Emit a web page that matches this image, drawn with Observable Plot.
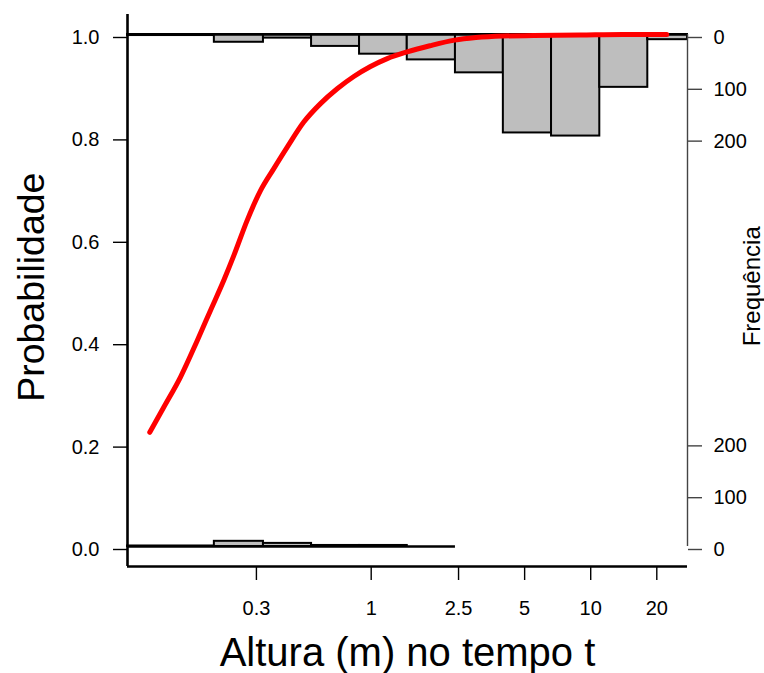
<!DOCTYPE html>
<html>
<head>
<meta charset="utf-8">
<script src="https://cdn.jsdelivr.net/npm/d3@7"></script>
<script src="https://cdn.jsdelivr.net/npm/@observablehq/plot@0.6"></script>
<style>
  html, body { margin: 0; padding: 0; background: white; }
</style>
</head>
<body>
<div id="chart"></div>
<script>
// ---- data ----
const probTicks = [0, 0.2, 0.4, 0.6, 0.8, 1.0];
const heightTicks = [0.3, 1, 2.5, 5, 10, 20];
const heightTickLabels = ["0.3", "1", "2.5", "5", "10", "20"];
const freqTicks = [0, 100, 200];

// fitted probability curve (height in m, probability)
const curveHeight = [0.098, 0.1135, 0.1353, 0.1612, 0.1853, 0.2131, 0.2366, 0.2723, 0.3131, 0.36, 0.4145, 0.493, 0.5875, 0.70, 0.8332, 0.9927, 1.183, 1.459, 1.85, 2.40, 3.0, 3.96, 5.5, 8.98, 14, 20.6, 22.2];
const curveProb   = [0.223, 0.272, 0.331, 0.402, 0.461, 0.520, 0.568, 0.637, 0.695, 0.738, 0.780, 0.829, 0.865, 0.894, 0.918, 0.9375, 0.953, 0.966, 0.978, 0.989, 0.994, 0.997, 0.998, 0.999, 1.0, 1.0, 1.0];

// histogram bins (height, m) and counts
const binEdges = [0.0776, 0.193, 0.323, 0.535, 0.885, 1.46, 2.42, 4.00, 6.63, 11.0, 18.2, 27.6];
const topCounts = [2, 15, 7, 23, 38, 49, 74, 190, 196, 102, 10];   // events (top, hanging from 1)
const bottomCounts = [1, 10, 6, 2, 2, 0];                           // non-events (bottom, rising from 0)

// ---- derived ----
const k = 0.001012; // probability units per count on the frequency axis
const curve = curveHeight.map((h, i) => ({h, p: curveProb[i]}));
const topBars = topCounts.map((c, i) => ({lo: binEdges[i], hi: binEdges[i + 1], c}));
const bottomBars = bottomCounts.map((c, i) => ({lo: binEdges[i], hi: binEdges[i + 1], c}));
const xTickData = heightTicks.map((v, i) => ({v, label: heightTickLabels[i]}));
const xMin = binEdges[0], xMax = binEdges[binEdges.length - 1];
const bottomMax = binEdges[bottomCounts.length];
const yDomain = [-0.0390625, 1.0390625];

const font = "'Liberation Sans', Arial, sans-serif";

const chart = Plot.plot({
  width: 764,
  height: 673,
  marginLeft: 127,
  marginRight: 77,
  marginTop: 14,
  marginBottom: 107,
  style: {fontFamily: font, fontSize: "20px", background: "white", color: "black", overflow: "visible"},
  x: {type: "log", domain: [xMin, xMax]},
  y: {domain: yDomain},
  marks: [
    // histograms
    Plot.rect(topBars, {x1: "lo", x2: "hi", y1: 1, y2: d => 1 - k * d.c, fill: "#BEBEBE", stroke: "black", strokeWidth: 2}),
    Plot.rect(bottomBars, {x1: "lo", x2: "hi", y1: 0, y2: d => k * d.c, fill: "#BEBEBE", stroke: "black", strokeWidth: 2}),
    Plot.ruleY([1], {x1: xMin, x2: xMax, stroke: "black", strokeWidth: 2.5}),
    Plot.ruleY([0], {x1: xMin, x2: bottomMax, stroke: "black", strokeWidth: 2.5}),
    // right frequency axis line
    Plot.ruleX([xMax], {y1: 0, y2: 1, stroke: "#444", strokeWidth: 1.4}),
    // L-shaped box
    Plot.ruleX([xMin], {stroke: "black", strokeWidth: 2.6}),
    Plot.ruleY([yDomain[0]], {stroke: "black", strokeWidth: 2.6}),
    // axes
    Plot.axisY({anchor: "left", ticks: probTicks, tickFormat: d => d.toFixed(1), tickSize: 14, tickPadding: 14, dy: 3, label: null, stroke: "black", strokeWidth: 1.4}),
    Plot.axisY({anchor: "right", ticks: freqTicks.map(c => 1 - k * c), tickFormat: v => String(Math.round((1 - v) / k)), tickSize: 14, tickPadding: 12, dy: 3, label: null, stroke: "#444", strokeWidth: 1.4}),
    Plot.axisY({anchor: "right", ticks: freqTicks.map(c => k * c), tickFormat: v => String(Math.round(v / k)), tickSize: 14, tickPadding: 12, dy: 3, label: null, stroke: "#444", strokeWidth: 1.4}),
    Plot.axisX({anchor: "bottom", ticks: heightTicks, text: null, tickSize: 14, label: null, stroke: "black", strokeWidth: 1.4}),
    Plot.text(xTickData, {x: "v", text: "label", frameAnchor: "bottom", textAnchor: "middle", lineAnchor: "middle", dy: 41.9, fontSize: 20, fill: "black"}),
    // fitted curve
    Plot.line(curve, {x: "h", y: "p", curve: "monotone-x", stroke: "#FF0000", strokeWidth: 5, strokeLinecap: "round", strokeLinejoin: "round"}),
    // labels
    Plot.text(["Altura (m) no tempo t"], {frameAnchor: "bottom", text: d => d, textAnchor: "middle", lineAnchor: "middle", dy: 86.2, fontSize: 40, fill: "black"}),
    Plot.text(["Probabilidade"], {frameAnchor: "left", text: d => d, rotate: -90, textAnchor: "middle", lineAnchor: "middle", dx: -95.3, dy: -3.3, fontSize: 37.5, fill: "black"}),
    Plot.text(["Frequência"], {frameAnchor: "right", text: d => d, rotate: -90, textAnchor: "middle", lineAnchor: "middle", dx: 64.5, dy: -4.2, fontSize: 24, fill: "black"})
  ]
});

document.getElementById("chart").appendChild(chart);
</script>
</body>
</html>
